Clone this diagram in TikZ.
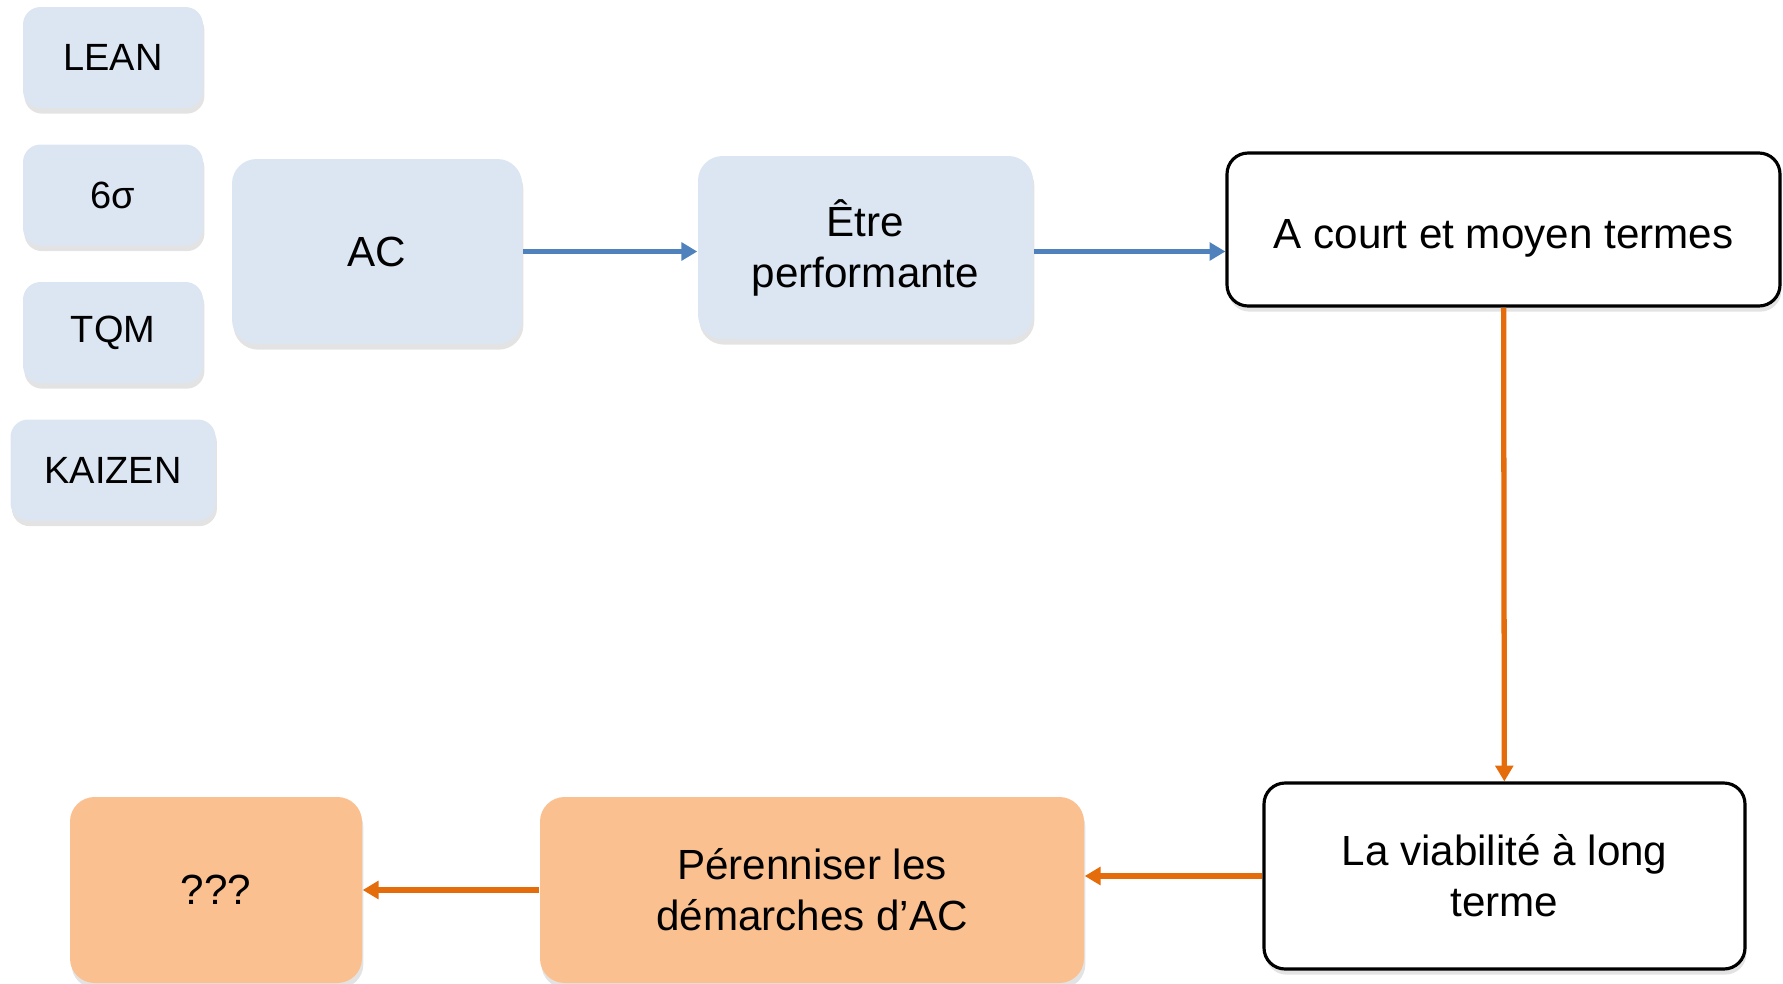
\documentclass[tikz,border=0pt]{standalone}
\usepackage{fontspec}
\setmainfont{Liberation Sans}
\usetikzlibrary{shadows,arrows.meta}

\definecolor{paleblue}{HTML}{DCE6F2}
\definecolor{paleorange}{HTML}{FAC090}
\definecolor{lineblue}{HTML}{4F81BD}
\definecolor{lineorange}{HTML}{E46C0A}

\begin{document}
\begin{tikzpicture}[
    shade/.style={drop shadow={shadow xshift=0.4pt,shadow yshift=-1.6pt,opacity=0.22}},
    small/.style={shade,fill=paleblue,rounded corners=5pt,inner sep=0pt,
      minimum width=1.80cm,minimum height=1.01cm,font=\fontsize{10.8}{13}\selectfont},
    bluebox/.style={shade,fill=paleblue,rounded corners=7pt,inner sep=0pt,
      align=center,font=\fontsize{12}{14.5}\selectfont},
    whitebox/.style={shade,draw=black,line width=0.9pt,fill=white,rounded corners=6pt,
      inner sep=0pt,align=center,font=\fontsize{12}{14.5}\selectfont},
    orangebox/.style={shade,fill=paleorange,rounded corners=7pt,inner sep=0pt,
      align=center,font=\fontsize{12}{14.5}\selectfont},
    bluearrow/.style={draw=lineblue,line width=1.2pt,-{Triangle[length=4.5pt,width=5pt]}},
    orangearrow/.style={draw=lineorange,line width=1.5pt,-{Triangle[length=4.5pt,width=5pt]}}]
  \useasboundingbox (0,0) rectangle (17.83,-9.84);

  \node[small](Lean) at (1.13,-0.575) {LEAN};
  \node[small](Sigma) at (1.13,-1.95) {6σ};
  \node[small](Tqm) at (1.13,-3.325) {TQM};
  \node[small,minimum width=2.05cm](Kaizen) at (1.13,-4.70) {KAIZEN};

  \node[bluebox,minimum width=2.90cm,minimum height=1.85cm](AC) at (3.77,-2.515) {AC};
  \node[bluebox,minimum width=3.35cm,minimum height=1.83cm](Perf) at (8.655,-2.475) {Être\\performante};
  \node[whitebox,minimum width=5.53cm,minimum height=1.53cm](Court) at (15.035,-2.295) {\raisebox{-5.5pt}[0pt][0pt]{A court et moyen termes}};
  \node[whitebox,minimum width=4.81cm,minimum height=1.86cm](Long) at (15.045,-8.76) {La viabilité à long\\terme};
  \node[orangebox,minimum width=5.44cm,minimum height=1.86cm](Peren) at (8.12,-8.90) {Pérenniser les\\démarches d’AC};
  \node[orangebox,minimum width=2.92cm,minimum height=1.86cm](Quest) at (2.16,-8.90) {???};

  \draw[bluearrow] (AC.east) -- (Perf.west |- AC.east);
  \draw[bluearrow] (Perf.east |- AC.east) -- (Court.west |- AC.east);
  \draw[orangearrow] (Court) -- (Long);
  \draw[orangearrow] (Long.west) -- (Peren.east |- Long.west);
  \draw[orangearrow] (Peren) -- (Quest);
\end{tikzpicture}
\end{document}
